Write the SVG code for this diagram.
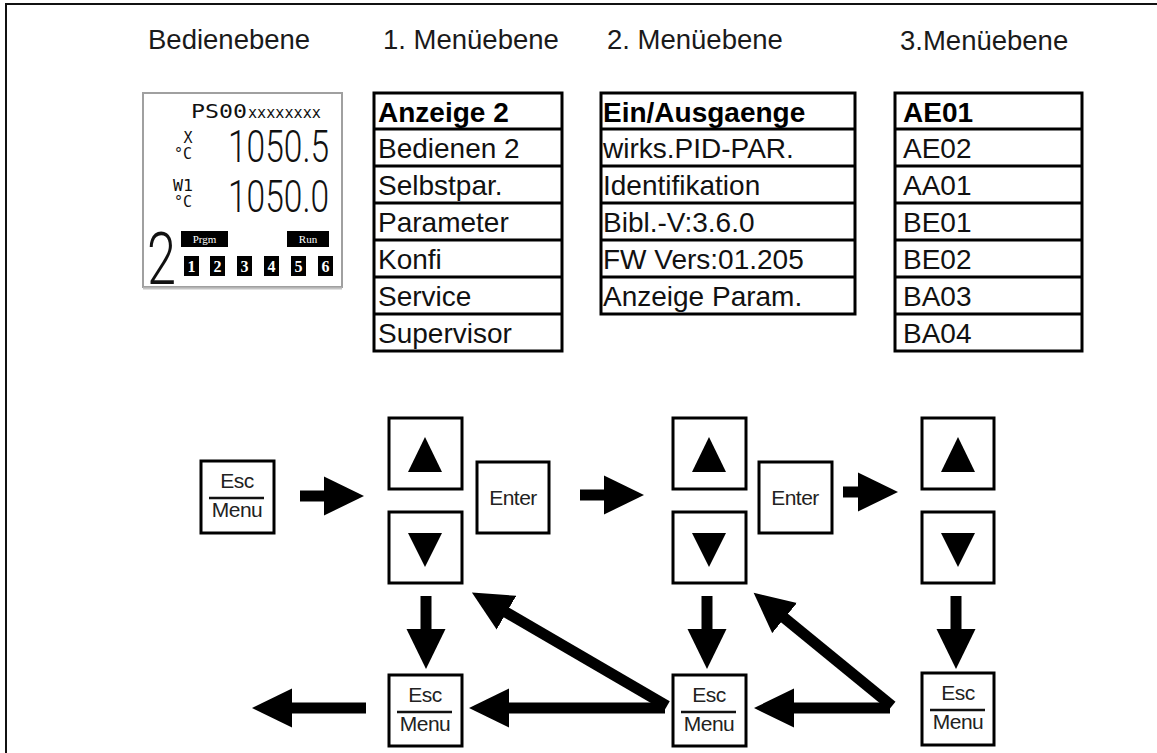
<svg xmlns="http://www.w3.org/2000/svg" width="1157" height="753" viewBox="0 0 1157 753">
<style>
text{font-family:"Liberation Sans",Arial,sans-serif}
.hdr{font-size:27.5px;fill:#1a1a1a}
.mi{font-size:28px;fill:#111}
.mb{font-weight:bold;fill:#000}
.box{fill:#fff;stroke:#000;stroke-width:3}
.rl{stroke:#000;stroke-width:3}
.btn{fill:#fff;stroke:#000;stroke-width:3}
.bt{font-size:21px;fill:#222;text-anchor:middle;letter-spacing:-0.5px}
.tri{fill:#000}
.conn line{stroke:#000;stroke-width:11;marker-end:url(#ah)}
.mono{font-family:"DejaVu Sans Mono","Liberation Mono",monospace;fill:#111}
.seg{font-family:Roboto,"DejaVu Sans Mono",monospace;font-weight:300;fill:#111}
.inv{fill:#fff;font-family:"Liberation Serif","Times New Roman",serif;text-anchor:middle}
</style>
<defs>
<marker id="ah" markerUnits="userSpaceOnUse" markerWidth="41" markerHeight="40" viewBox="0 -20 41 40" refX="1" refY="0" orient="auto">
<path d="M0,-19.5 L40,0 L0,19.5 Z" fill="#000"/>
</marker>
</defs>
<rect width="1157" height="753" fill="#fff"/>
<path d="M6,753 V4 H1157" fill="none" stroke="#111" stroke-width="2"/>

<g id="headers">
<text class="hdr" x="148" y="48.5">Bedienebene</text>
<text class="hdr" x="383" y="49">1. Menüebene</text>
<text class="hdr" x="607" y="49">2. Menüebene</text>
<text class="hdr" x="900" y="50">3.Menüebene</text>
</g>

<g id="lcd">
<rect x="143" y="93" width="199" height="194" fill="#fff" stroke="#a0a0a0" stroke-width="2"/>
<line x1="143" y1="288.5" x2="342" y2="288.5" stroke="#c4c4c4" stroke-width="2"/>
<text class="mono" x="191" y="118" font-size="20" textLength="56" lengthAdjust="spacingAndGlyphs">PS00</text>
<text class="mono" x="248" y="118" font-size="15" textLength="73" lengthAdjust="spacingAndGlyphs">xxxxxxxx</text>
<text class="mono" x="188" y="143" font-size="15" text-anchor="middle">X</text>
<text class="mono" x="183" y="159" font-size="15" text-anchor="middle">°C</text>
<text class="seg" x="228" y="162" font-size="44" textLength="101" lengthAdjust="spacingAndGlyphs">1050.5</text>
<text class="mono" x="173" y="191" font-size="15" textLength="20" lengthAdjust="spacingAndGlyphs">W1</text>
<text class="mono" x="183" y="207" font-size="15" text-anchor="middle">°C</text>
<text class="seg" x="228" y="212" font-size="44" textLength="101" lengthAdjust="spacingAndGlyphs">1050.0</text>
<text class="seg" x="147" y="284" font-size="72" textLength="29" lengthAdjust="spacingAndGlyphs">2</text>
<rect x="181" y="231" width="47" height="16" fill="#000"/>
<text class="inv" x="204.5" y="243" font-size="11">Prgm</text>
<rect x="287" y="231" width="42" height="16" fill="#000"/>
<text class="inv" x="308" y="243" font-size="11">Run</text>
<g font-size="16" font-weight="bold">
<rect x="184" y="256" width="15" height="20" fill="#000"/><text class="inv" x="191.5" y="272">1</text>
<rect x="210" y="256" width="15" height="20" fill="#000"/><text class="inv" x="217.5" y="272">2</text>
<rect x="237" y="256" width="15" height="20" fill="#000"/><text class="inv" x="244.5" y="272">3</text>
<rect x="264" y="256" width="15" height="20" fill="#000"/><text class="inv" x="271.5" y="272">4</text>
<rect x="291" y="256" width="15" height="20" fill="#000"/><text class="inv" x="298.5" y="272">5</text>
<rect x="318" y="256" width="15" height="20" fill="#000"/><text class="inv" x="325.5" y="272">6</text>
</g>
</g>

<g id="menu1">
<rect class="box" x="374" y="93" width="188" height="258"/>
<line class="rl" x1="374" y1="129" x2="562" y2="129" stroke-width="4"/>
<line class="rl" x1="374" y1="166" x2="562" y2="166"/>
<line class="rl" x1="374" y1="203" x2="562" y2="203"/>
<line class="rl" x1="374" y1="240" x2="562" y2="240"/>
<line class="rl" x1="374" y1="277" x2="562" y2="277"/>
<line class="rl" x1="374" y1="314" x2="562" y2="314"/>
<text class="mi mb" x="378" y="122">Anzeige 2</text>
<text class="mi" x="378" y="158">Bedienen 2</text>
<text class="mi" x="378" y="195">Selbstpar.</text>
<text class="mi" x="378" y="232">Parameter</text>
<text class="mi" x="378" y="269">Konfi</text>
<text class="mi" x="378" y="306">Service</text>
<text class="mi" x="378" y="343">Supervisor</text>
</g>

<g id="menu2">
<rect class="box" x="601" y="93" width="254" height="221"/>
<line class="rl" x1="601" y1="129" x2="855" y2="129" stroke-width="4"/>
<line class="rl" x1="601" y1="166" x2="855" y2="166" stroke-width="4"/>
<line class="rl" x1="601" y1="203" x2="855" y2="203"/>
<line class="rl" x1="601" y1="240" x2="855" y2="240"/>
<line class="rl" x1="601" y1="277" x2="855" y2="277"/>
<text class="mi mb" x="603" y="122">Ein/Ausgaenge</text>
<text class="mi" x="603" y="158">wirks.PID-PAR.</text>
<text class="mi" x="603" y="195">Identifikation</text>
<text class="mi" x="603" y="232">Bibl.-V:3.6.0</text>
<text class="mi" x="603" y="269">FW Vers:01.205</text>
<text class="mi" x="603" y="306">Anzeige Param.</text>
</g>

<g id="menu3">
<rect class="box" x="895" y="93" width="187" height="258"/>
<line class="rl" x1="895" y1="129" x2="1082" y2="129" stroke-width="4"/>
<line class="rl" x1="895" y1="166" x2="1082" y2="166"/>
<line class="rl" x1="895" y1="203" x2="1082" y2="203"/>
<line class="rl" x1="895" y1="240" x2="1082" y2="240"/>
<line class="rl" x1="895" y1="277" x2="1082" y2="277"/>
<line class="rl" x1="895" y1="314" x2="1082" y2="314"/>
<text class="mi mb" x="903" y="122">AE01</text>
<text class="mi" x="903" y="158">AE02</text>
<text class="mi" x="903" y="195">AA01</text>
<text class="mi" x="903" y="232">BE01</text>
<text class="mi" x="903" y="269">BE02</text>
<text class="mi" x="903" y="306">BA03</text>
<text class="mi" x="903" y="343">BA04</text>
</g>

<g id="btn-esc-start">
<rect class="btn" x="201" y="461" width="73" height="72"/>
<text class="bt" x="237" y="488">Esc</text>
<line x1="209" y1="498" x2="264" y2="498" stroke="#111" stroke-width="2.5"/>
<text class="bt" x="237" y="517">Menu</text>
</g>

<g id="btn-up1"><rect class="btn" x="389" y="418" width="73" height="71"/><polygon class="tri" points="408,472 442,472 425,437"/></g>
<g id="btn-down1"><rect class="btn" x="389" y="512" width="73" height="71"/><polygon class="tri" points="408,533 442,533 425,567"/></g>
<g id="btn-enter1"><rect class="btn" x="477" y="462" width="72" height="71"/><text class="bt" x="513" y="505">Enter</text></g>

<g id="btn-up2"><rect class="btn" x="673" y="418" width="73" height="71"/><polygon class="tri" points="692,472 726,472 709,437"/></g>
<g id="btn-down2"><rect class="btn" x="673" y="512" width="73" height="71"/><polygon class="tri" points="692,533 726,533 709,567"/></g>
<g id="btn-enter2"><rect class="btn" x="759" y="462" width="73" height="71"/><text class="bt" x="795" y="505">Enter</text></g>

<g id="btn-up3"><rect class="btn" x="922" y="418" width="72" height="71"/><polygon class="tri" points="941,472 975,472 958,437"/></g>
<g id="btn-down3"><rect class="btn" x="922" y="512" width="72" height="71"/><polygon class="tri" points="941,533 975,533 958,567"/></g>

<g id="btn-esc1">
<rect class="btn" x="389" y="675" width="73" height="71"/>
<text class="bt" x="425" y="702">Esc</text>
<line x1="397" y1="712" x2="452" y2="712" stroke="#111" stroke-width="2.5"/>
<text class="bt" x="425" y="731">Menu</text>
</g>
<g id="btn-esc2">
<rect class="btn" x="673" y="675" width="73" height="71"/>
<text class="bt" x="709" y="702">Esc</text>
<line x1="681" y1="712" x2="736" y2="712" stroke="#111" stroke-width="2.5"/>
<text class="bt" x="709" y="731">Menu</text>
</g>
<g id="btn-esc3">
<rect class="btn" x="922" y="673" width="72" height="72"/>
<text class="bt" x="958" y="700">Esc</text>
<line x1="930" y1="710" x2="985" y2="710" stroke="#111" stroke-width="2.5"/>
<text class="bt" x="958" y="729">Menu</text>
</g>

<g id="connectors" class="conn">
<line x1="300" y1="496" x2="325" y2="496"/>
<line x1="580" y1="495" x2="605" y2="495"/>
<line x1="843" y1="492" x2="859" y2="492"/>
<line x1="426" y1="596" x2="426" y2="630"/>
<line x1="707" y1="596" x2="707" y2="630"/>
<line x1="956" y1="596" x2="956" y2="630"/>
<line x1="366" y1="708" x2="291" y2="708"/>
<line x1="665" y1="708" x2="508" y2="708"/>
<line x1="667" y1="706" x2="505.6" y2="612.1"/>
<line x1="890" y1="708" x2="793" y2="708"/>
<line x1="892" y1="706" x2="783.8" y2="617.4"/>
</g>
</svg>
